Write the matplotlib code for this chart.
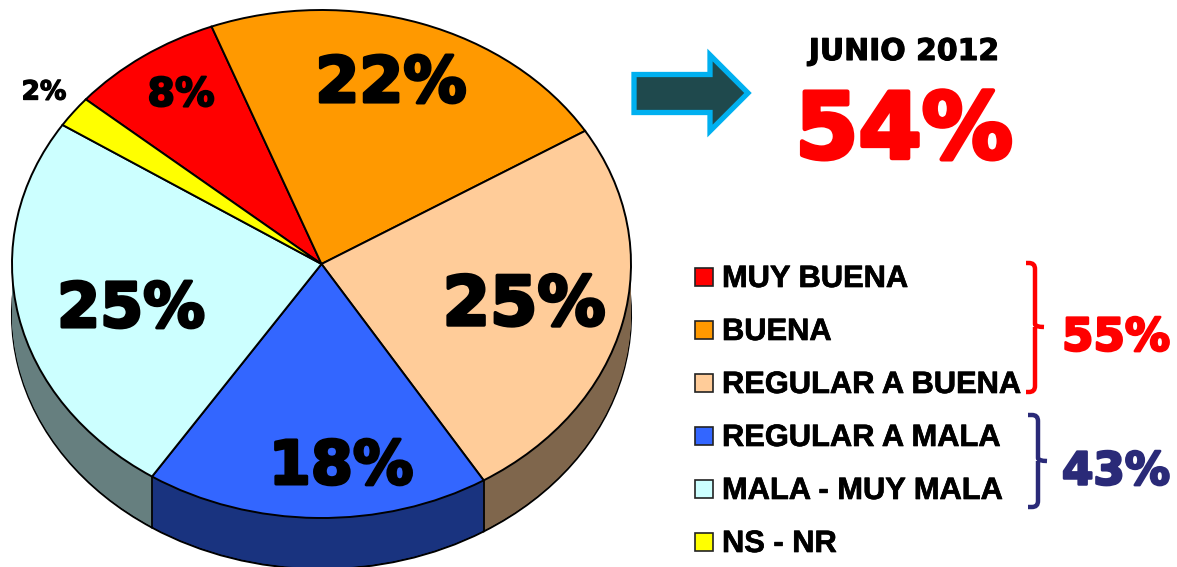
import numpy as np
import matplotlib
matplotlib.use("Agg")
import matplotlib.pyplot as plt
import matplotlib.patheffects as pe
from matplotlib.patches import Polygon, Rectangle, PathPatch
from matplotlib.path import Path

categories = ["MUY BUENA", "BUENA", "REGULAR A BUENA", "REGULAR A MALA", "MALA - MUY MALA", "NS - NR"]
values = [8, 22, 25, 18, 25, 2]
top_colors = ["#FF0000", "#FF9900", "#FFCC99", "#3366FF", "#CCFFFF", "#FFFF00"]
side_colors = ["#7F0000", "#7F4C00", "#7F664C", "#19337F", "#667F7F", "#7F7F00"]
groups = [("55%", "#FF0000"), ("43%", "#2A2A78")]
title = "JUNIO 2012"
headline = "54%"

W, H = 1177, 567
CX, CY, RX, RY, DEPTH = 321.5, 264, 309.5, 254, 51
START = 139.6
plt.rcParams["font.family"] = ["Liberation Sans", "DejaVu Sans"]
HEAVY = "DejaVu Sans"

fig = plt.figure(figsize=(W / 100, H / 100), dpi=100, facecolor="white")

# Pie axes: unit circle stretched to an ellipse
ax = fig.add_axes([0, 0, 1, 1])
wp_side = dict(linewidth=1.5, edgecolor="black", clip_on=False)
d = DEPTH / RY
ax.pie(values, colors=side_colors, startangle=START, counterclock=False,
       center=(0, -d), wedgeprops=wp_side, normalize=True)
for off in np.arange(DEPTH - 1, 0, -1):
    ax.pie(values, colors=side_colors, startangle=START, counterclock=False,
           center=(0, -off / RY), wedgeprops=dict(linewidth=0, clip_on=False), normalize=True)
# vertical seams on the visible side
edges = START - 3.6 * np.cumsum(values)
for a in edges:
    x, y = np.cos(np.radians(a)), np.sin(np.radians(a))
    if y < 0:
        ax.plot([x, x], [y, y - d], color="black", lw=1.3, solid_capstyle="butt", zorder=5)
ax.pie(values, colors=top_colors, startangle=START, counterclock=False,
       wedgeprops=dict(linewidth=1.4, edgecolor="black", clip_on=False), normalize=True)
for w in ax.patches[-len(values):]:
    w.set_zorder(6)
ax.set_aspect("auto")
ax.set_xlim((0 - CX) / RX, (W - CX) / RX)
ax.set_ylim((CY - H) / RY, CY / RY)
ax.axis("off")

# Overlay in pixel coordinates
ov = fig.add_axes([0, 0, 1, 1], facecolor="none")
ov.set_xlim(0, W)
ov.set_ylim(H, 0)
ov.axis("off")


def label(x, base, s, size, color="black", ha="center", stroke=0.0, family=None):
    t = ov.text(x, base, s, fontsize=size, fontweight="bold", color=color, ha=ha, va="baseline",
                zorder=10, family=family if family else plt.rcParams["font.family"])
    if stroke:
        t.set_path_effects([pe.withStroke(linewidth=stroke, foreground=color)])
    return t


pct = [f"{v}%" for v in values]
pie_labels = [(181, 106, 28.5), (391, 102, 45.5), (524, 325, 49), (341, 484, 43.5), (131, 327, 44.5), (44, 99.5, 19)]
for s, (x, b, size) in zip(pct, pie_labels):
    label(x, b, s, size, stroke=size * 0.05, family=HEAVY)

# Arrow
ov.add_patch(Polygon([(634, 74.5), (710, 74.5), (710, 55), (748, 93), (710, 131), (710, 112.5), (634, 112.5)],
                     closed=True, facecolor="#1F494D", edgecolor="#00B0F0", linewidth=3.8,
                     joinstyle="miter", zorder=8))
label(904, 60, title, 21.5, stroke=0.8, family=HEAVY)
label(904, 158, headline, 65.5, color="#FF0000", stroke=3.2, family=HEAVY)

# Legend
for i, (c, col) in enumerate(zip(categories, top_colors)):
    y = 277 + 53 * i
    ov.add_patch(Rectangle((694.5, y - 9), 18, 18, facecolor=col, edgecolor="#222222", linewidth=1.2, zorder=8))
    label(722, y + 10, c, 22.2, ha="left", stroke=0.5)


def brace(x0, xs, xt, top, mid, bot, color):
    r = 6
    verts = [(x0, top), (xs - r, top), (xs, top), (xs, top + r),
             (xs, mid - 3), (xs, mid), (xt, mid),
             (xs, mid), (xs, mid + 3), (xs, bot - r),
             (xs, bot), (xs - r, bot), (x0, bot)]
    codes = [Path.MOVETO, Path.LINETO, Path.CURVE3, Path.CURVE3,
             Path.LINETO, Path.CURVE3, Path.CURVE3,
             Path.MOVETO, Path.LINETO, Path.LINETO,
             Path.CURVE3, Path.CURVE3, Path.LINETO]
    ov.add_patch(PathPatch(Path(verts, codes), fill=False, edgecolor=color, linewidth=3.2, zorder=8))


brace(1026, 1035, 1044, 263, 327, 392, groups[0][1])
brace(1028, 1038, 1047, 415, 461, 507, groups[1][1])
label(1116, 350.5, groups[0][0], 32.5, color=groups[0][1], stroke=1.8, family=HEAVY)
label(1116, 484.5, groups[1][0], 32.5, color=groups[1][1], stroke=1.8, family=HEAVY)

fig.savefig("out.png", dpi=100, facecolor="white")
